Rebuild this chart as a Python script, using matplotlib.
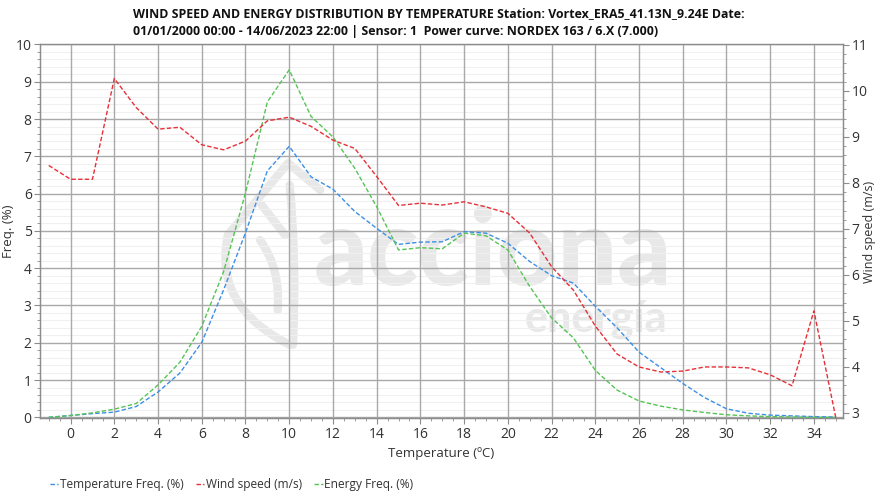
import numpy as np
import matplotlib
matplotlib.use("Agg")
import matplotlib.pyplot as plt
from matplotlib.ticker import MultipleLocator
from matplotlib.path import Path
from matplotlib.patches import PathPatch

plt.rcParams['font.family'] = ['Open Sans', 'DejaVu Sans']

# Temperature bins (ºC)
temperature = list(range(-1, 36))

# Frequency of each temperature bin (%)
temp_freq = [0.00, 0.05, 0.10, 0.14, 0.29, 0.68, 1.19, 2.01, 3.42, 4.95,
             6.61, 7.27, 6.45, 6.12, 5.52, 5.07, 4.64, 4.70, 4.71, 4.98,
             4.94, 4.67, 4.18, 3.80, 3.60, 2.98, 2.40, 1.75, 1.33, 0.91,
             0.53, 0.23, 0.11, 0.06, 0.04, 0.02, 0.01]

# Mean wind speed in each temperature bin (m/s)
wind_speed = [8.38, 8.08, 8.08, 10.27, 9.64, 9.17, 9.21, 8.83, 8.72, 8.91,
              9.35, 9.43, 9.23, 8.93, 8.75, 8.14, 7.51, 7.56, 7.52, 7.59,
              7.48, 7.34, 6.91, 6.18, 5.67, 4.89, 4.28, 4.00, 3.89, 3.91,
              4.00, 4.00, 3.98, 3.83, 3.59, 5.22, 2.90]

# Share of energy produced in each temperature bin (%)
energy_freq = [0.00, 0.05, 0.12, 0.22, 0.37, 0.87, 1.48, 2.44, 3.91, 6.02,
               8.46, 9.32, 8.07, 7.52, 6.68, 5.65, 4.49, 4.55, 4.52, 4.94,
               4.87, 4.49, 3.51, 2.67, 2.13, 1.26, 0.73, 0.44, 0.30, 0.20,
               0.13, 0.07, 0.04, 0.02, 0.01, 0.00, 0.00]

title_1 = ("WIND SPEED AND ENERGY DISTRIBUTION BY TEMPERATURE "
           "Station: Vortex_ERA5_41.13N_9.24E Date:")
title_2 = ("01/01/2000 00:00 - 14/06/2023 22:00 | Sensor: 1  "
           "Power curve: NORDEX 163 / 6.X (7.000)")

c_blue = '#3d8fe6'
c_red = '#e63038'
c_green = '#55c455'
dash = (0, (3.2, 1.6))
txt = '#333333'
mark = '#e8e8e8'

fig = plt.figure(figsize=(8.75, 4.91), dpi=100)
ax = fig.add_axes([0.0457, 0.1477, 0.9177, 0.7617])
ax2 = ax.twinx()

# faint company watermark behind the grid: leaf emblem + wordmark
M, L, C = Path.MOVETO, Path.LINETO, Path.CURVE3
leaf = [
    ([(0.349, 0.611), (0.309, 0.683), (0.234, 0.491),
      (0.215, 0.300), (0.311, 0.197)], [M, L, L, C, C]),
    ([(0.276, 0.571), (0.305, 0.491)], [M, L]),
    ([(0.274, 0.477), (0.300, 0.400), (0.296, 0.290)], [M, C, C]),
    ([(0.311, 0.624), (0.320, 0.420), (0.315, 0.197)], [M, C, C]),
]
for verts, codes in leaf:
    ax.add_patch(PathPatch(Path(verts, codes), transform=ax.transAxes,
                           fill=False, ec=mark, lw=6, capstyle='round',
                           joinstyle='round', zorder=0.1))

ax.text(0.564, 0.357, 'acciona', transform=ax.transAxes, fontsize=76,
        fontweight='black', color=mark, ha='center', va='baseline',
        family='Lato', zorder=0.1)
ax.text(0.781, 0.232, 'energía', transform=ax.transAxes, fontsize=31,
        fontweight='black', color=mark, ha='right', va='baseline',
        family='Lato', zorder=0.1)

# light minor rows, kept under the major grid
ax.hlines(np.arange(0.2, 10, 0.2), -1.4, 35.33, color='#f0f0f0', lw=0.8,
          zorder=0.2)

l1, = ax.plot(temperature, temp_freq, color=c_blue, lw=1.0, ls=dash,
              label='Temperature Freq. (%)', zorder=3)
l3, = ax.plot(temperature, energy_freq, color=c_green, lw=1.0, ls=dash,
              label='Energy Freq. (%)', zorder=3)
l2, = ax2.plot(temperature, wind_speed, color=c_red, lw=1.0, ls=dash,
               label='Wind speed (m/s)', zorder=3)

ax.set_xlim(-1.4, 35.33)
ax.set_ylim(-0.03, 10)
ax2.set_ylim(2.88, 11.01)

ax.xaxis.set_major_locator(MultipleLocator(2))
ax.xaxis.set_minor_locator(MultipleLocator(0.5))
ax.yaxis.set_major_locator(MultipleLocator(1))
ax.yaxis.set_minor_locator(MultipleLocator(0.2))
ax2.yaxis.set_major_locator(MultipleLocator(1))
ax2.yaxis.set_minor_locator(MultipleLocator(0.2))

ax.grid(which='major', color='#a9a9a9', lw=1.0)
ax.set_axisbelow(True)

for a in (ax, ax2):
    for s in a.spines.values():
        s.set_color('#8c8c8c')
        s.set_linewidth(0.9)
    a.tick_params(which='major', length=4, width=0.8, color='#8c8c8c',
                  labelsize=10, labelcolor=txt, pad=2)
    a.tick_params(which='minor', length=2.5, width=0.6, color='#8c8c8c')
ax.spines['top'].set_color('#a9a9a9')

ax.set_xlabel('Temperature (ºC)', fontsize=9.5, color=txt, labelpad=4)
ax.set_ylabel('Freq. (%)', fontsize=9.5, color=txt)
ax2.set_ylabel('Wind speed (m/s)', fontsize=9, color=txt)
ax.yaxis.set_label_coords(-0.031, 0.5)
ax2.yaxis.set_label_coords(1.025, 0.5)

fig.text(0.152, 0.972, title_1, fontsize=8.9, fontweight='bold', color='#111111',
         ha='left', va='center')
fig.text(0.152, 0.935, title_2, fontsize=8.9, fontweight='bold', color='#111111',
         ha='left', va='center')

fig.legend(handles=[l1, l2, l3], loc='lower left', bbox_to_anchor=(0.045, -0.022),
           ncol=3, frameon=False, fontsize=8.6, handlelength=0.7,
           handletextpad=0.15, columnspacing=1.0, labelcolor=txt)

fig.savefig('out.png', dpi=100)
